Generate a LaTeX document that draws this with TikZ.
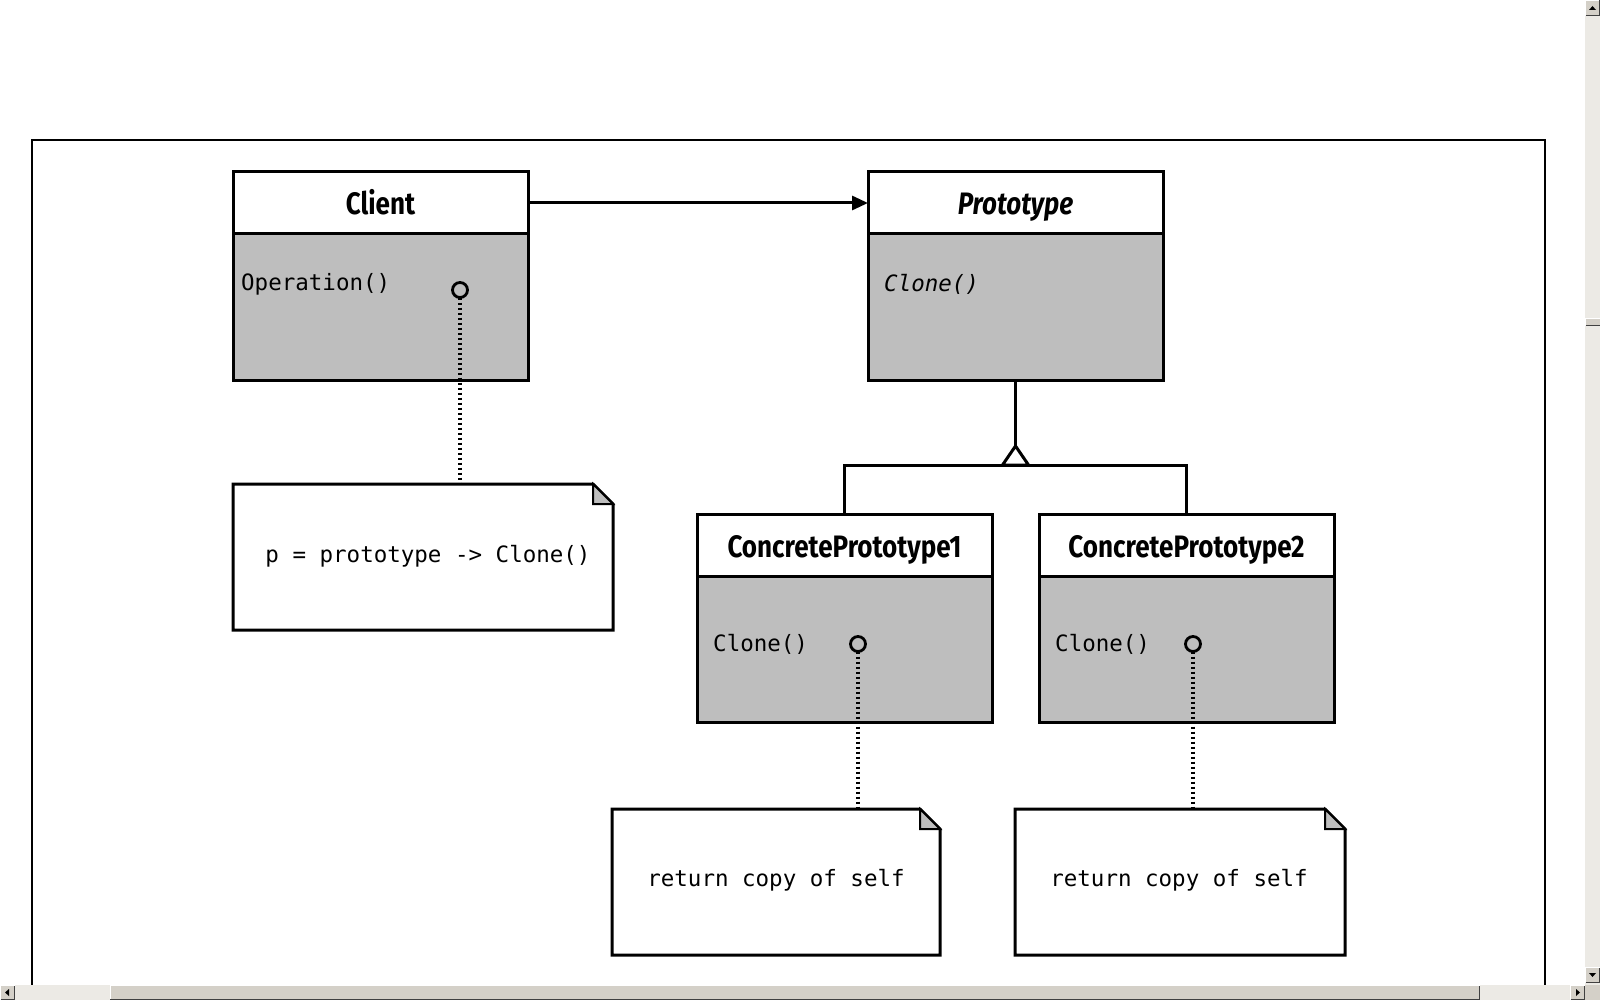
\documentclass[tikz,border=0pt]{standalone}
\usepackage{fontspec}
\usetikzlibrary{arrows.meta,calc}
\newfontfamily\titlefont[FakeStretch=0.84]{Fira Sans}
\newfontfamily\codefont{DejaVu Sans Mono}
\definecolor{classgray}{RGB}{190,190,190}
\definecolor{sbface}{RGB}{212,208,200}
\definecolor{sbtrack}{RGB}{236,234,229}
\definecolor{sbdark}{RGB}{64,64,64}
\definecolor{sbshade}{RGB}{128,128,128}
\begin{document}
\begin{tikzpicture}[x=1pt,y=-1pt,
 hdr/.style={draw=black, line width=3pt, fill=white, minimum width=295pt, minimum height=62pt, inner sep=0pt, outer sep=0pt, anchor=north west, text height=27pt, text depth=3pt, font=\titlefont\fontsize{31}{36}\selectfont\bfseries},
 classbody/.style={draw=black, line width=3pt, fill=classgray, minimum width=295pt, minimum height=146pt, inner sep=0pt, outer sep=0pt, anchor=north},
 op/.style={anchor=west, inner sep=0pt, font=\codefont\fontsize{22.5}{27}\selectfont},
 port/.style={circle, draw=black, line width=2.8pt, minimum size=15pt, inner sep=0pt, outer sep=0pt},
 notebox/.style={minimum height=146pt, inner sep=0pt, outer sep=0pt, anchor=north west, font=\codefont\fontsize{22.5}{27}\selectfont},
 noteline/.style={draw=black, line width=3pt, line join=miter, fill=white},
 dotline/.style={line width=3.2pt, dash pattern=on 2.6pt off 2.4pt},
 conn/.style={line width=3pt},
 sbbtn/.style={fill=sbface}
]
\useasboundingbox (0,0) rectangle (1600,1000);
\fill[white] (0,0) rectangle (1600,1000);

% outer frame
\draw[line width=1.5pt] (32,985) -- (32,140) -- (1545,140) -- (1545,985);

% classes
\node[hdr] (clientH) at (233,172) {Client};
\node[classbody] (clientB) at (clientH.south) {};
\node[op] (clientOp) at (241,284) {Operation()};
\node[port] (clientPort) at (460,290) {};

\node[hdr] (protoH) at (868,172) {\itshape Prototype};
\node[classbody] (protoB) at (protoH.south) {};
\node[op] (protoOp) at (884,284) {\itshape Clone()};

\node[hdr] (cp1H) at (697,514) {ConcretePrototype1};
\node[classbody] (cp1B) at (cp1H.south) {};
\node[op] (cp1Op) at (713,644) {Clone()};
\node[port] (cp1Port) at (858,644) {};

\node[hdr] (cp2H) at (1039,514) {ConcretePrototype2};
\node[classbody] (cp2B) at (cp2H.south) {};
\node[op] (cp2Op) at (1055,644) {Clone()};
\node[port] (cp2Port) at (1193,644) {};

% notes
\node[notebox, minimum width=380pt] (n1) at (233,484) {};
\node[notebox, minimum width=328pt] (n2) at (612,809) {};
\node[notebox, minimum width=330pt] (n3) at (1015,809) {};
\foreach \n in {n1,n2,n3}{
  \path[noteline] (\n.north west) -- ([xshift=-20pt]\n.north east) -- ([yshift=-20pt]\n.north east) -- (\n.south east) -- (\n.south west) -- cycle;
  \path[draw=black, line width=2pt, fill=classgray, line join=miter] ([xshift=-20pt]\n.north east) -- ([xshift=-20pt,yshift=-20pt]\n.north east) -- ([yshift=-20pt]\n.north east) -- cycle;
}
\node[op, anchor=center] (n1t) at (428,556) {p = prototype -> Clone()};
\node[op, anchor=center] (n2t) at (776,880) {return copy of self};
\node[op, anchor=center] (n3t) at (1179,880) {return copy of self};

% dotted note links
\draw[dotline] (clientPort.south) -- (clientPort.south |- n1.north);
\draw[dotline] (cp1Port.south) -- (cp1Port.south |- n2.north);
\draw[dotline] (cp2Port.south) -- (cp2Port.south |- n3.north);

% association
\draw[conn, -{Triangle[length=16pt,width=14pt]}] (clientH.east) -- (protoH.west);

% inheritance
\coordinate (apex) at (protoB.south |- 0,446);
\coordinate (bar) at (protoB.south |- 0,465);
\draw[conn] (protoB.south) -- (apex);
\draw[conn] (cp1H.north) -- (cp1H.north |- bar) -- (cp2H.north |- bar) -- (cp2H.north);
\draw[conn, fill=white, line join=miter] (apex) -- ([xshift=-13pt]bar) -- ([xshift=13pt]bar) -- cycle;

% scrollbars
\fill[sbtrack] (1585,0) rectangle (1600,985);
\fill[sbtrack] (0,985) rectangle (1585,1000);
\fill[sbface] (1585,985) rectangle (1600,1000);
% vertical buttons
\fill[sbface] (1585,0) rectangle (1600,16);
\draw[white, line width=1pt] (1585.5,16) -- (1585.5,0.5) -- (1600,0.5);
\draw[sbdark, line width=1pt] (1585.5,15.5) -- (1599.5,15.5) -- (1599.5,0.5);
\fill[black] (1589,10) -- (1596,10) -- (1592.5,6) -- cycle;
\fill[sbface] (1585,967) rectangle (1600,983);
\draw[white, line width=1pt] (1585.5,983) -- (1585.5,967.5) -- (1600,967.5);
\draw[sbdark, line width=1pt] (1585.5,982.5) -- (1599.5,982.5) -- (1599.5,967.5);
\fill[black] (1589,973) -- (1596,973) -- (1592.5,977) -- cycle;
\fill[sbface] (1585,318) rectangle (1600,326);
\draw[white, line width=1pt] (1585.5,326) -- (1585.5,318.5) -- (1600,318.5);
\draw[sbdark, line width=1pt] (1585.5,325.5) -- (1599.5,325.5);
% horizontal buttons
\fill[sbface] (0,985) rectangle (15,1000);
\draw[white, line width=1pt] (0.5,1000) -- (0.5,985.5) -- (15,985.5);
\draw[sbdark, line width=1pt] (0.5,999.5) -- (14.5,999.5) -- (14.5,985.5);
\fill[black] (9,989) -- (9,996) -- (5,992.5) -- cycle;
\fill[sbface] (1570,985) rectangle (1585,1000);
\draw[white, line width=1pt] (1570.5,1000) -- (1570.5,985.5) -- (1585,985.5);
\draw[sbdark, line width=1pt] (1570.5,999.5) -- (1584.5,999.5) -- (1584.5,985.5);
\fill[black] (1576,989) -- (1576,996) -- (1580,992.5) -- cycle;
\fill[sbface] (110,985) rectangle (1480,1000);
\draw[white, line width=1pt] (110.5,1000) -- (110.5,985.5) -- (1480,985.5);
\draw[sbdark, line width=1.5pt] (110,999.25) -- (1479.25,999.25) -- (1479.25,985.5);
\end{tikzpicture}
\end{document}
